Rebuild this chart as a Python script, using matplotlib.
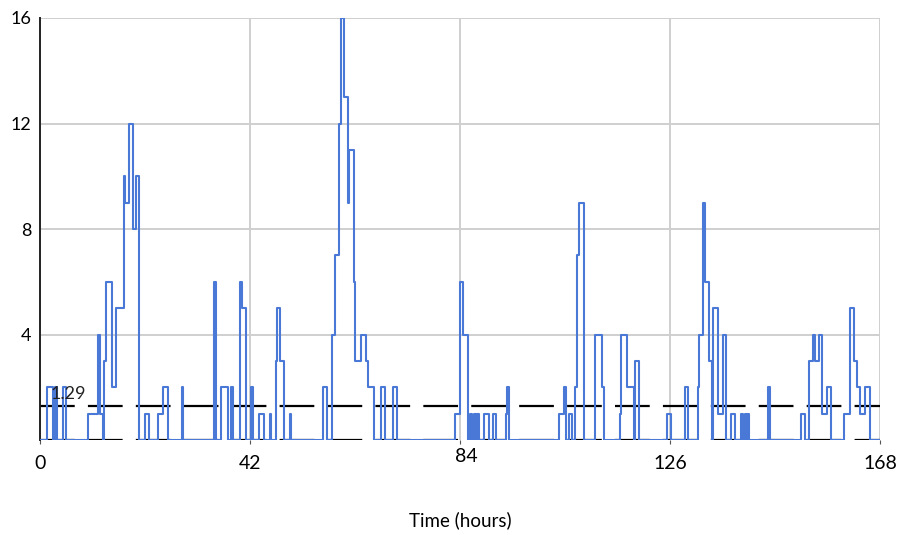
import matplotlib
matplotlib.use("Agg")
import matplotlib.pyplot as plt
import matplotlib.transforms as mtransforms

# hourly arrivals over one week, stored as step breakpoints (value holds until next time)
hours = [0, 1.4, 2.5, 3.0, 3.3, 4.5, 5.2,
         9.7, 11.5, 11.9, 12.6, 12.8, 13.3, 14.5, 15.3, 16.8, 17.1, 17.8, 18.5, 19.1, 19.7,
         21.0, 21.8, 23.7, 24.7, 25.6, 28.4, 28.7,
         34.9, 35.2, 36.3, 37.7, 38.3, 38.7, 40.0, 40.4, 41.3, 42.2, 42.7, 43.9, 44.8,
         46.0, 46.3, 47.1, 47.4, 48.0, 48.8, 50.0, 50.3,
         56.6, 57.5, 58.5, 59.0, 59.9, 60.3, 60.8, 61.6, 61.8, 62.8, 63.1, 64.3, 65.3,
         65.7, 66.8, 68.3, 69.1, 70.6, 71.5,
         83.0, 84.1, 84.6, 85.7, 86.1, 86.4, 86.9, 87.2, 87.5, 87.8, 88.8, 89.8, 90.6,
         91.2, 93.3, 93.5, 93.8,
         103.9, 104.8, 105.3, 105.9, 106.5, 107.0, 107.5, 107.9, 108.8, 111.0, 112.5,
         112.8, 116.1, 116.3, 117.5, 118.9, 119.1, 119.8,
         125.4, 126.3, 129.1, 129.6, 131.6, 131.8, 132.6, 133.0, 133.9, 134.5, 134.6,
         135.7, 136.6, 137.3, 138.3, 139.1, 140.3, 140.6, 141.0, 141.3, 141.5, 141.9,
         145.6, 146.0,
         152.3, 153.1, 153.8, 154.6, 155.1, 155.8, 156.5, 157.5, 158.3, 160.8, 162.1,
         162.8, 163.5, 164.1, 165.1, 166.1, 168]

counts = [0, 2, 0, 2, 0, 2, 0,
          1, 4, 1, 0, 3, 6, 2, 5, 10, 9, 12, 8, 10, 0,
          1, 0, 1, 2, 0, 2, 0,
          6, 0, 2, 0, 2, 0, 6, 5, 0, 2, 0, 1, 0,
          1, 0, 3, 5, 3, 0, 1, 0,
          2, 0, 4, 7, 12, 16, 13, 9, 11, 6, 3, 4, 3,
          2, 0, 2, 0, 2, 0,
          1, 6, 4, 0, 1, 0, 1, 0, 1, 0, 1, 0, 1,
          0, 1, 2, 0,
          1, 2, 0, 1, 0, 2, 7, 9, 0, 4, 2,
          0, 1, 4, 2, 0, 3, 0,
          1, 0, 2, 0, 2, 4, 9, 6, 3, 0, 5,
          1, 4, 0, 1, 0, 1, 0, 1, 0, 1, 0,
          2, 0,
          1, 0, 3, 4, 3, 4, 1, 2, 0, 1, 5,
          3, 2, 1, 2, 0, 0]

mean_level = 1.29
x_ticks = [0, 42, 84, 126, 168]
y_ticks = [4, 8, 12, 16]

plt.rcParams['font.family'] = ['Lato', 'DejaVu Sans']
plt.rcParams['lines.scale_dashes'] = False

fig = plt.figure(figsize=(9.07, 5.35), dpi=100)
ax = fig.add_axes([40 / 907, 95 / 535, 840 / 907, 422 / 535])

# dashed reference lines (mean and zero) sit under the series
ax.axhline(mean_level, color='black', lw=1.6, dashes=(25, 9.5), zorder=2)
ax.axhline(0, color='black', lw=1.6, dashes=(25, 9.5), zorder=2)
ax.step(hours, counts, where='post', color='#4a78d6', lw=1.5, zorder=3)

ax.text(2.2, mean_level + 0.15, f'{mean_level:.2f}', fontsize=13,
        color='#222222', ha='left', va='bottom', zorder=4)

ax.set_xlim(0, 168)
ax.set_ylim(0, 16)
ax.set_xticks(x_ticks)
ax.set_xticklabels([str(v) for v in x_ticks], fontsize=14)
ax.set_yticks(y_ticks)
ax.set_yticklabels([str(v) for v in y_ticks], fontsize=13)
ax.tick_params(axis='x', length=3, color='#555555', pad=8)
ax.tick_params(axis='y', length=0, pad=6)

ax.grid(True, color='#cfcfcf', lw=1.4, zorder=0)
ax.set_axisbelow(True)
for side in ['top', 'right', 'bottom']:
    ax.spines[side].set_visible(False)
ax.spines['left'].set_color('#222222')
ax.spines['left'].set_linewidth(1.4)

# the 84 label sits a bit higher and to the right
lab84 = ax.get_xticklabels()[2]
lab84.set_transform(lab84.get_transform() +
                    mtransforms.ScaledTranslation(6 / 100, 7 / 100, fig.dpi_scale_trans))

ax.set_xlabel('Time (hours)', fontsize=13.5, labelpad=28)

fig.savefig('out.png', dpi=100)
